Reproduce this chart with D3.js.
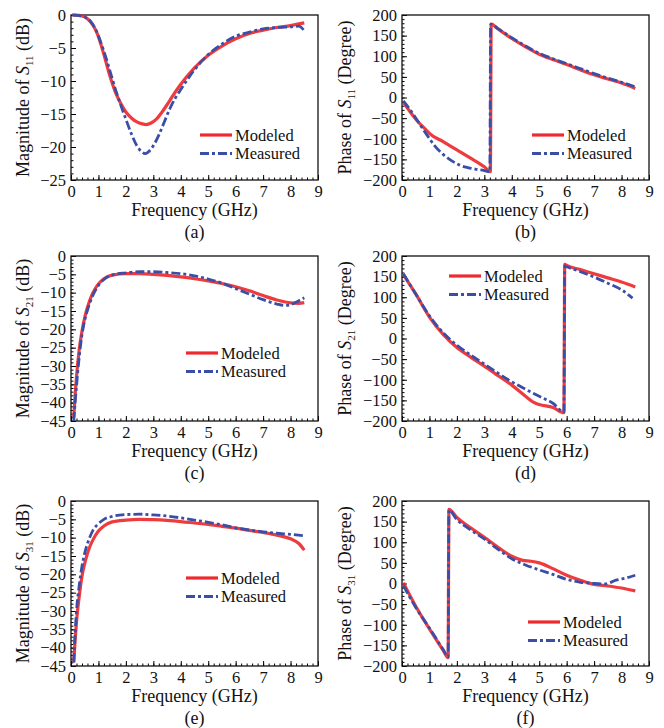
<!DOCTYPE html>
<html>
<head>
<meta charset="utf-8">
<script src="https://cdn.jsdelivr.net/npm/d3@7"></script>
<style>
body { margin: 0; background: #fff; }
text { font-family: "Liberation Serif", "Times New Roman", serif; fill: #111; }
</style>
</head>
<body>
<div id="viz-container"></div>
<script>
// values (frequency in GHz, magnitude in dB, phase in degrees)

// (a) magnitude of S11
const s11MagModF  = [0.05,0.3,0.5,0.7,0.9,1.0,1.1,1.2,1.3,1.4,1.5,1.6,1.8,2.0,2.2,2.4,2.6,2.75,2.9,3.1,3.3,3.5,3.7,4.0,4.5,5.0,5.5,6.0,6.5,7.0,7.5,8.0,8.5];
const s11MagMod   = [0,-0.05,-0.3,-1.0,-2.3,-3.3,-4.6,-6.0,-7.5,-9.0,-10.3,-11.5,-13.3,-14.7,-15.6,-16.2,-16.5,-16.6,-16.4,-15.8,-14.8,-13.6,-12.3,-10.5,-8.0,-6.1,-4.7,-3.6,-2.8,-2.3,-1.9,-1.6,-1.2];
const s11MagMeasF = [0.05,0.3,0.5,0.7,0.9,1.0,1.1,1.2,1.3,1.4,1.5,1.6,1.8,2.0,2.2,2.4,2.6,2.7,2.8,3.0,3.2,3.4,3.6,3.8,4.0,4.5,5.0,5.5,6.0,6.5,7.0,7.5,8.0,8.3,8.5];
const s11MagMeas  = [0,-0.1,-0.3,-0.9,-2.2,-3.2,-4.3,-5.5,-6.8,-8.2,-9.6,-11.0,-13.5,-15.8,-18.0,-19.8,-20.8,-21.0,-20.8,-19.8,-18.2,-16.2,-14.2,-12.6,-11.3,-8.3,-6.0,-4.4,-3.2,-2.6,-2.1,-1.9,-1.8,-1.7,-2.4];

// (b) phase of S11
const s11PhModF  = [0.05,0.3,0.6,0.9,1.0,1.5,2.0,2.5,3.0,3.22,3.25,3.5,4.0,4.5,5.0,5.5,6.0,6.5,7.0,7.5,8.0,8.5];
const s11PhMod   = [-12,-35,-60,-80,-87,-107,-127,-147,-168,-180,178,166,143,123,105,92,80,67,55,45,35,22];
const s11PhMeasF = [0.05,0.3,0.6,0.9,1.2,1.5,1.8,2.1,2.4,2.7,3.0,3.2,3.23,3.5,4.0,4.5,5.0,5.5,6.0,6.5,7.0,7.5,8.0,8.5];
const s11PhMeas  = [-8,-30,-60,-90,-118,-138,-153,-164,-170,-174,-177,-180,178,167,145,125,107,94,82,70,58,47,37,26];

// (c) magnitude of S21
const s21MagModF  = [0.1,0.15,0.2,0.3,0.4,0.5,0.6,0.7,0.8,1.0,1.2,1.5,2.0,2.5,3.0,3.5,4.0,4.5,5.0,5.5,6.0,6.5,7.0,7.5,8.0,8.3,8.5];
const s21MagMod   = [-44,-38,-33,-25.5,-20.5,-16.8,-14,-11.8,-10,-7.6,-6.2,-5.2,-4.8,-4.8,-5.0,-5.3,-5.7,-6.2,-6.8,-7.5,-8.4,-9.5,-10.8,-12.0,-12.8,-12.9,-12.7];
const s21MagMeasF = [0.1,0.15,0.2,0.3,0.4,0.5,0.6,0.7,0.8,1.0,1.2,1.5,2.0,2.5,3.0,3.5,4.0,4.5,5.0,5.5,6.0,6.5,7.0,7.5,7.8,8.0,8.2,8.4,8.5];
const s21MagMeas  = [-45,-40,-35.5,-27.5,-21.5,-17.5,-14.8,-12.5,-10.7,-8.0,-6.4,-5.2,-4.6,-4.3,-4.3,-4.5,-4.8,-5.4,-6.3,-7.4,-8.9,-10.4,-11.9,-13.1,-13.5,-13.3,-12.6,-11.8,-11.4];

// (d) phase of S21
const s21PhModF  = [0.05,0.5,1.0,1.5,2.0,2.5,3.0,3.5,4.0,4.5,4.8,5.0,5.5,5.9,5.93,6.0,6.5,7.0,7.5,8.0,8.5];
const s21PhMod   = [155,108,52,10,-22,-45,-67,-90,-113,-140,-155,-160,-167,-180,180,177,167,157,147,137,125];
const s21PhMeasF = [0.05,0.5,1.0,1.5,2.0,2.5,3.0,3.5,4.0,4.5,5.0,5.5,5.9,5.93,6.0,6.5,7.0,7.5,8.0,8.4];
const s21PhMeas  = [157,108,55,14,-16,-40,-62,-84,-105,-123,-140,-157,-178,176,174,162,149,134,118,98];

// (e) magnitude of S31
const s31MagModF  = [0.1,0.15,0.2,0.3,0.4,0.5,0.6,0.7,0.8,1.0,1.2,1.5,2.0,2.5,3.0,3.5,4.0,4.5,5.0,5.5,6.0,6.5,7.0,7.5,8.0,8.3,8.5];
const s31MagMod   = [-44,-38,-33,-26,-20.5,-17,-14.3,-12.2,-10.6,-8.2,-6.8,-5.7,-5.2,-5.0,-5.1,-5.3,-5.6,-6.0,-6.4,-6.9,-7.4,-8.0,-8.6,-9.3,-10.3,-11.6,-13.4];
const s31MagMeasF = [0.1,0.15,0.2,0.3,0.4,0.5,0.6,0.7,0.8,1.0,1.2,1.5,2.0,2.5,3.0,3.5,4.0,4.5,5.0,5.5,6.0,6.5,7.0,7.5,8.0,8.5];
const s31MagMeas  = [-44,-36,-30,-23,-17.8,-14.2,-11.6,-9.6,-8.0,-6.2,-5.0,-4.2,-3.7,-3.6,-3.8,-4.1,-4.6,-5.2,-5.8,-6.5,-7.3,-7.9,-8.4,-8.8,-9.1,-9.5];

// (f) phase of S31
const s31PhModF  = [0.05,0.5,1.0,1.5,1.68,1.71,2.0,2.5,3.0,3.5,4.0,4.4,4.7,5.0,5.5,6.0,6.5,7.0,7.5,8.0,8.5];
const s31PhMod   = [2,-55,-110,-162,-180,180,160,135,112,88,66,56,54,50,36,20,8,-2,-6,-11,-18];
const s31PhMeasF = [0.05,0.5,1.0,1.5,1.68,1.71,2.0,2.5,3.0,3.5,4.0,4.5,5.0,5.5,6.0,6.5,7.0,7.4,7.8,8.2,8.5];
const s31PhMeas  = [-5,-58,-108,-160,-178,178,155,130,108,83,60,45,33,22,10,3,0,-1,8,14,20];

const legendNames = ["Modeled", "Measured"];
const freqTicks = [0,1,2,3,4,5,6,7,8,9];
const magTicksA = [0,-5,-10,-15,-20,-25];
const magTicksCE = [0,-5,-10,-15,-20,-25,-30,-35,-40,-45];
const phaseTicks = [200,150,100,50,0,-50,-100,-150,-200];

const RED = "#ee2a2e", BLUE = "#3a4ea6";

let viz = d3.select("#viz-container")
  .append("svg")
    .attr("width", 664)
    .attr("height", 728)
    .style("background-color", "#fff");

const W = 247, H = 165;

function pair(xs, ys){ return xs.map((x, i) => [x, ys[i]]); }

// one entry per sub-figure
const panels = [
  {cap:"(a)", x0:71,  y0:15,  ticks:magTicksA,  minor:1,  q:"Magnitude", sub:"11", unit:"(dB)",     lx:29,  mod:pair(s11MagModF,s11MagMod), meas:pair(s11MagMeasF,s11MagMeas), leg:[129,120]},
  {cap:"(b)", x0:402, y0:15,  ticks:phaseTicks, minor:10, q:"Phase",     sub:"11", unit:"(Degree)", lx:351, mod:pair(s11PhModF,s11PhMod),   meas:pair(s11PhMeasF,s11PhMeas),   leg:[130,120]},
  {cap:"(c)", x0:71,  y0:256, ticks:magTicksCE, minor:1,  q:"Magnitude", sub:"21", unit:"(dB)",     lx:29,  mod:pair(s21MagModF,s21MagMod), meas:pair(s21MagMeasF,s21MagMeas), leg:[115,97]},
  {cap:"(d)", x0:402, y0:256, ticks:phaseTicks, minor:10, q:"Phase",     sub:"21", unit:"(Degree)", lx:351, mod:pair(s21PhModF,s21PhMod),   meas:pair(s21PhMeasF,s21PhMeas),   leg:[47,20]},
  {cap:"(e)", x0:71,  y0:501, ticks:magTicksCE, minor:1,  q:"Magnitude", sub:"31", unit:"(dB)",     lx:29,  mod:pair(s31MagModF,s31MagMod), meas:pair(s31MagMeasF,s31MagMeas), leg:[115,77]},
  {cap:"(f)", x0:402, y0:501, ticks:phaseTicks, minor:10, q:"Phase",     sub:"31", unit:"(Degree)", lx:351, mod:pair(s31PhModF,s31PhMod),   meas:pair(s31PhMeasF,s31PhMeas),   leg:[126,121]}
];

panels.forEach(function(p){
  let g = viz.append("g").attr("transform", "translate(" + p.x0 + "," + p.y0 + ")");
  let x = d3.scaleLinear().domain([0, 9]).range([0, W]);
  let ext = d3.extent(p.ticks);
  let y = d3.scaleLinear().domain(ext).range([H, 0]);

  // minor ticks
  g.append("g").attr("transform", "translate(0," + H + ")")
    .call(d3.axisBottom(x).tickValues(d3.range(0, 9.001, 0.2)).tickSize(-2.5).tickFormat(""))
    .call(a => a.select(".domain").remove());
  g.append("g")
    .call(d3.axisLeft(y).tickValues(d3.range(ext[0], ext[1] + 0.001, p.minor)).tickSize(-2.5).tickFormat(""))
    .call(a => a.select(".domain").remove());

  // major ticks + labels
  g.append("g").attr("transform", "translate(0," + H + ")")
    .call(d3.axisBottom(x).tickValues(freqTicks).tickSize(-5).tickPadding(5).tickFormat(d3.format("d")))
    .call(a => a.select(".domain").remove())
    .call(a => a.selectAll("text").style("font-size", "16.5px").style("font-family", "Liberation Serif").attr("fill", "#111"));
  g.append("g")
    .call(d3.axisLeft(y).tickValues(p.ticks).tickSize(-5).tickPadding(5).tickFormat(d3.format("d")))
    .call(a => a.select(".domain").remove())
    .call(a => a.selectAll("text").style("font-size", "16.5px").style("font-family", "Liberation Serif").attr("fill", "#111"));

  // frame
  g.append("rect").attr("width", W).attr("height", H)
    .attr("fill", "none").attr("stroke", "#111").attr("stroke-width", 1.3);

  let line = d3.line().x(d => x(d[0])).y(d => y(d[1])).curve(d3.curveMonotoneX);

  g.append("path").datum(p.mod).attr("d", line)
    .attr("fill", "none").attr("stroke", RED).attr("stroke-width", 3.2).attr("stroke-opacity", 0.92);
  g.append("path").datum(p.meas).attr("d", line)
    .attr("fill", "none").attr("stroke", BLUE).attr("stroke-width", 2.8)
    .attr("stroke-dasharray", "9,3,3,3");

  // legend
  let lg = g.append("g").attr("transform", "translate(" + p.leg[0] + "," + p.leg[1] + ")");
  legendNames.forEach(function(name, i){
    lg.append("line").attr("x1", 0).attr("x2", 32).attr("y1", i * 18.5).attr("y2", i * 18.5)
      .attr("stroke", i == 0 ? RED : BLUE).attr("stroke-width", i == 0 ? 3.2 : 2.8)
      .attr("stroke-dasharray", i == 0 ? null : "9,3,3,3");
    lg.append("text").text(name).attr("x", 35).attr("y", i * 18.5 + 5.5)
      .style("font-size", "16.5px");
  });

  // axis titles
  g.append("text").text("Frequency (GHz)")
    .attr("x", W / 2).attr("y", H + 36).attr("text-anchor", "middle").style("font-size", "18px");
  g.append("text").text(p.cap)
    .attr("x", W / 2).attr("y", H + 58).attr("text-anchor", "middle").style("font-size", "18px");

  let yl = viz.append("text")
    .attr("transform", "translate(" + p.lx + "," + (p.y0 + H / 2) + ") rotate(-90)")
    .attr("text-anchor", "middle").style("font-size", "18px");
  yl.append("tspan").text(p.q + " of ");
  yl.append("tspan").text("S").style("font-style", "italic");
  yl.append("tspan").text(p.sub).attr("dy", 4).style("font-size", "11px");
  yl.append("tspan").text(" " + p.unit).attr("dy", -4);
});
</script>
</body>
</html>
